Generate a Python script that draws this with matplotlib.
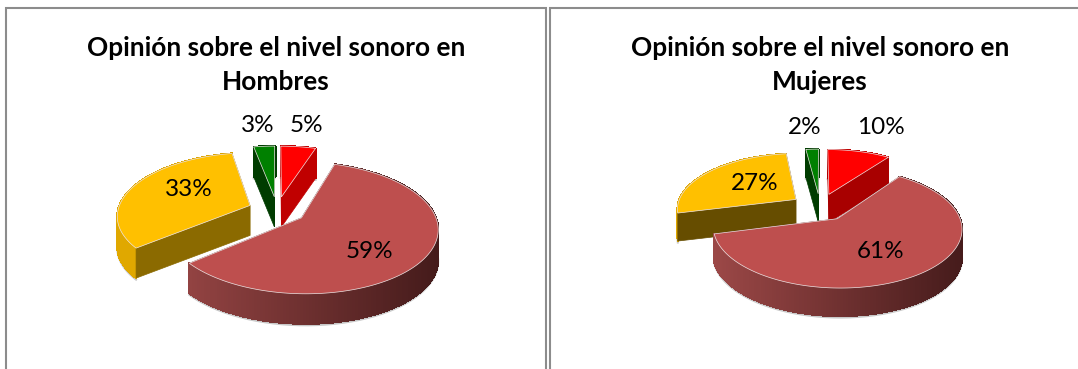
import matplotlib
matplotlib.use('Agg')
import matplotlib.pyplot as plt
import numpy as np
from matplotlib.collections import PolyCollection
from matplotlib.colors import to_rgb
from matplotlib.patches import Polygon

# datos
hombres_valores = [5, 59, 33, 3]
mujeres_valores = [10, 61, 27, 2]
titulo_hombres = 'Opinión sobre el nivel sonoro en\nHombres'
titulo_mujeres = 'Opinión sobre el nivel sonoro en\nMujeres'

# rojo, marron, amarillo, verde
col_top = ['#ff0000', '#be4f4e', '#ffc000', '#008000']
col_cut_h = ['#c00000', '#5a2424', '#8b6a00', '#003c00']
col_cut_m = ['#a80000', '#5a2424', '#664d00', '#003c00']
col_rim_l = ['#c00000', '#a04a49', '#e0a800', '#003c00']
col_rim_r = ['#c00000', '#431a1a', '#c09000', '#003c00']
orden = [3, 0, 2, 1]  # de atras hacia adelante
MARRON = 1

GRIS = '#8c8c8c'
plt.rcParams['font.family'] = ['Lato', 'DejaVu Sans']

fig = plt.figure(figsize=(10.78, 3.69), dpi=100)
ax = fig.add_axes([0, 0, 1, 1])
ax.set_xlim(0, 1078)
ax.set_ylim(369, 0)
ax.axis('off')


def proyectar(theta, r, bis, p):
    u = p['e'] * np.sin(bis) + r * np.sin(theta)
    v = p['e'] * np.cos(bis) + r * np.cos(theta)
    s = 1 / (1 + p['k'] * v)
    return p['cx'] + p['a'] * u * s, p['cy'] - p['b'] * v * s


def dibujar_pie(valores, p):
    fr = np.array(valores) / sum(valores)
    lim = np.concatenate([[0], np.cumsum(fr)]) * 2 * np.pi
    for i in orden:
        t0, t1 = lim[i], lim[i + 1]
        bis = (t0 + t1) / 2
        th = np.linspace(t0, t1, 200)
        x, y = proyectar(th, 1, bis, p)
        px, py = proyectar(0, 0, bis, p)
        d = p['depth']
        base = 2 + orden.index(i) * 3
        # solo en el trozo marron el borde tapa las caras de corte
        z_corte, z_borde = (base, base + 1) if i == MARRON else (base + 1, base)

        # sombra debajo del borde
        ax.plot(x, y + d + 1.5, color='#c8c8c8', lw=1.5, zorder=1)

        # caras de corte
        for xe, ye in [(x[0], y[0]), (x[-1], y[-1])]:
            ax.add_patch(Polygon([(px, py), (xe, ye), (xe, ye + d), (px, py + d)],
                                 fc=p['cut'][i], ec=p['cut'][i], lw=0.5, zorder=z_corte))

        # borde exterior con degradado
        quads = []
        cols = []
        c0, c1 = np.array(to_rgb(col_rim_l[i])), np.array(to_rgb(col_rim_r[i]))
        xmin, xmax = p['cx'] - p['a'], p['cx'] + p['a'] * 1.25
        for j in range(len(th) - 1):
            quads.append([(x[j], y[j]), (x[j + 1], y[j + 1]), (x[j + 1], y[j + 1] + d), (x[j], y[j] + d)])
            f = np.clip((x[j] - xmin) / (xmax - xmin), 0, 1)
            cols.append(c0 + (c1 - c0) * f)
        ax.add_collection(PolyCollection(quads, facecolors=cols, edgecolors=cols, linewidths=0.8,
                                         antialiaseds=False, zorder=z_borde))

        # cara superior
        ax.add_patch(Polygon(list(zip(np.r_[px, x], np.r_[py, y])), closed=True,
                             fc=col_top[i], ec='#efe4e4', lw=0.5, zorder=base + 2))

    for val, (lx, ly) in zip(valores, p['labels']):
        ax.text(lx, ly, f'{val}%', ha='center', va='center', fontsize=p['fs'], color='black', zorder=30)


panel_h = dict(cx=277, cy=210, a=132, b=62, k=0.15, e=0.22, depth=30, fs=17.5, cut=col_cut_h,
               labels=[(306, 125), (369, 251), (189, 190), (258, 125)])
panel_m = dict(cx=820, cy=207, a=119, b=55, k=0.15, e=0.25, depth=28, fs=17.5, cut=col_cut_m,
               labels=[(881, 127), (881, 252), (755, 183), (805, 127)])

dibujar_pie(hombres_valores, panel_h)
dibujar_pie(mujeres_valores, panel_m)

ax.text(276, 65, titulo_hombres, ha='center', va='center', fontsize=18.9, fontweight='bold', linespacing=1.55)
ax.text(820, 65, titulo_mujeres, ha='center', va='center', fontsize=18.9, fontweight='bold', linespacing=1.55)

# marcos
ax.plot([6, 6, 546, 546], [369, 8, 8, 369], color=GRIS, lw=1.5, solid_joinstyle='miter')
ax.plot([550, 550, 1078], [369, 8, 8], color=GRIS, lw=1.5, solid_joinstyle='miter')

fig.savefig('out.png', dpi=100)
